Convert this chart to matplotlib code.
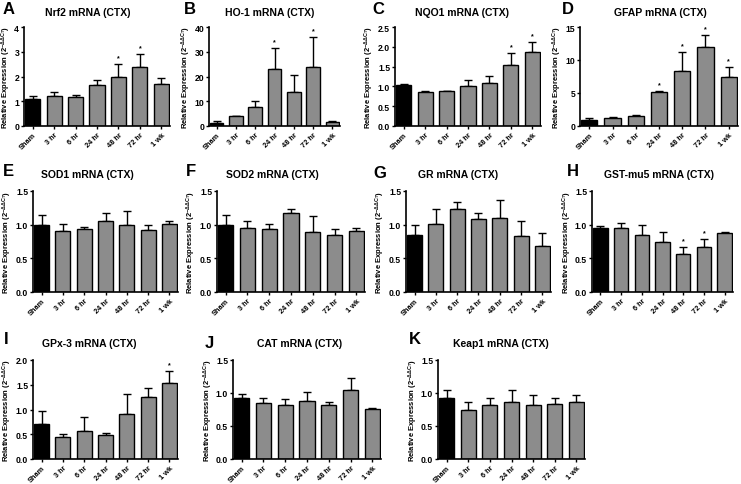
import matplotlib

matplotlib.use("Agg")

import matplotlib.pyplot as plt
import numpy as np

plt.rcParams["font.family"] = ["Liberation Sans", "DejaVu Sans"]
plt.rcParams["font.weight"] = "bold"
plt.rcParams["mathtext.fontset"] = "custom"
plt.rcParams["mathtext.rm"] = "Liberation Sans:bold"
plt.rcParams["mathtext.it"] = "Liberation Sans:bold"
plt.rcParams["mathtext.bf"] = "Liberation Sans:bold"

groups = ["Sham", "3 hr", "6 hr", "24 hr", "48 hr", "72 hr", "1 wk"]

# bar heights and the top end of each error bar
nrf2_mean = [1.08, 1.21, 1.16, 1.67, 1.99, 2.37, 1.70]
nrf2_top = [1.21, 1.37, 1.25, 1.87, 2.49, 2.90, 1.95]
ho1_mean = [1.1, 4.0, 7.6, 23.0, 13.8, 23.7, 1.6]
ho1_top = [1.9, 4.0, 10.0, 31.7, 20.7, 36.1, 2.0]
nqo1_mean = [1.03, 0.85, 0.89, 1.01, 1.09, 1.54, 1.88]
nqo1_top = [1.05, 0.88, 0.89, 1.17, 1.26, 1.85, 2.13]
gfap_mean = [0.9, 1.26, 1.5, 5.1, 8.4, 11.9, 7.4]
gfap_top = [1.2, 1.36, 1.67, 5.35, 11.2, 13.8, 8.95]
sod1_mean = [1.00, 0.91, 0.93, 1.05, 0.99, 0.92, 1.01]
sod1_top = [1.14, 1.01, 0.96, 1.17, 1.21, 1.00, 1.05]
sod2_mean = [1.00, 0.95, 0.93, 1.17, 0.89, 0.85, 0.90]
sod2_top = [1.15, 1.06, 1.01, 1.24, 1.13, 0.93, 0.95]
gr_mean = [0.84, 1.01, 1.24, 1.08, 1.10, 0.83, 0.69]
gr_top = [0.99, 1.23, 1.34, 1.17, 1.36, 1.05, 0.87]
gst_mean = [0.95, 0.95, 0.85, 0.75, 0.57, 0.67, 0.87]
gst_top = [0.98, 1.03, 0.99, 0.89, 0.67, 0.79, 0.89]
gpx3_mean = [0.70, 0.45, 0.56, 0.48, 0.90, 1.25, 1.53]
gpx3_top = [0.97, 0.50, 0.84, 0.53, 1.32, 1.44, 1.77]
cat_mean = [0.92, 0.85, 0.82, 0.88, 0.82, 1.05, 0.76]
cat_top = [0.99, 0.93, 0.91, 1.01, 0.87, 1.22, 0.78]
keap1_mean = [0.93, 0.75, 0.82, 0.87, 0.82, 0.83, 0.87]
keap1_top = [1.04, 0.86, 0.92, 1.05, 0.97, 0.92, 0.97]

panels = [
    ("A", "Nrf2 mRNA (CTX)", nrf2_mean, nrf2_top, [4, 5], [0, 1, 2, 3, 4], "{:.0f}"),
    ("B", "HO-1 mRNA (CTX)", ho1_mean, ho1_top, [3, 5], [0, 10, 20, 30, 40], "{:.0f}"),
    ("C", "NQO1 mRNA (CTX)", nqo1_mean, nqo1_top, [5, 6], [0, 0.5, 1.0, 1.5, 2.0, 2.5], "{:.1f}"),
    ("D", "GFAP mRNA (CTX)", gfap_mean, gfap_top, [3, 4, 5, 6], [0, 5, 10, 15], "{:.0f}"),
    ("E", "SOD1 mRNA (CTX)", sod1_mean, sod1_top, [], [0, 0.5, 1.0, 1.5], "{:.1f}"),
    ("F", "SOD2 mRNA (CTX)", sod2_mean, sod2_top, [], [0, 0.5, 1.0, 1.5], "{:.1f}"),
    ("G", "GR mRNA (CTX)", gr_mean, gr_top, [], [0, 0.5, 1.0, 1.5], "{:.1f}"),
    ("H", "GST-mu5 mRNA (CTX)", gst_mean, gst_top, [4, 5], [0, 0.5, 1.0, 1.5], "{:.1f}"),
    ("I", "GPx-3 mRNA (CTX)", gpx3_mean, gpx3_top, [6], [0, 0.5, 1.0, 1.5, 2.0], "{:.1f}"),
    ("J", "CAT mRNA (CTX)", cat_mean, cat_top, [], [0, 0.5, 1.0, 1.5], "{:.1f}"),
    ("K", "Keap1 mRNA (CTX)", keap1_mean, keap1_top, [], [0, 0.5, 1.0, 1.5], "{:.1f}"),
]

# pixel layout: axes box (left, right, top, bottom), title centre, letter position
W, H = 741, 485
layout = {
    "A": ((24, 170, 28, 127), (88, 13), (3, 9)),
    "B": ((209, 340, 28, 127), (270, 13), (184, 9)),
    "C": ((395, 541, 28, 127), (462, 13), (372, 9)),
    "D": ((580, 738, 28, 127), (660, 13), (562, 9)),
    "E": ((33, 178, 192, 293), (87, 175), (3, 172)),
    "F": ((217, 365, 192, 293), (272, 175), (186, 171)),
    "G": ((406, 551, 192, 293), (458, 175), (373, 173)),
    "H": ((592, 733, 192, 293), (659, 175), (567, 172)),
    "I": ((33, 178, 361, 460), (89, 344), (4, 340)),
    "J": ((233, 381, 361, 460), (300, 344), (205, 343)),
    "K": ((438, 585, 361, 460), (501, 344), (409, 340)),
}

fig = plt.figure(figsize=(W / 100, H / 100), dpi=100)
x = np.arange(len(groups))
colors = ["black"] + ["#8c8c8c"] * (len(groups) - 1)

for letter, title, mean, top, stars, yticks, fmt in panels:
    (l, r, t, b), (tx, ty), (lx, ly) = layout[letter]
    ax = fig.add_axes([l / W, 1 - b / H, (r - l) / W, (b - t) / H])
    mean = np.asarray(mean)
    top = np.asarray(top)
    err = top - mean
    ax.bar(x, mean, width=0.7, color=colors, edgecolor="black", linewidth=1.0, zorder=2)
    ax.errorbar(x, mean, yerr=[np.zeros_like(err), err], fmt="none", ecolor="black",
                elinewidth=1.0, capsize=3, capthick=1.0, zorder=1)
    for i in stars:
        ax.annotate("*", (x[i], top[i]), xytext=(0, 2), textcoords="offset points",
                    ha="center", va="bottom", fontsize=5)
    ax.set_xlim(-0.4, len(groups) - 0.6)
    ax.set_ylim(0, yticks[-1])
    ax.set_yticks(yticks)
    ax.set_yticklabels([fmt.format(v) for v in yticks], fontsize=6.2, fontweight="bold")
    ax.set_xticks(x)
    ax.set_xticklabels(groups, rotation=45, ha="right", rotation_mode="anchor",
                       fontsize=5.3, fontweight="bold")
    ax.tick_params(direction="out", length=2.5, width=1.0, pad=1)
    for side in ["top", "right"]:
        ax.spines[side].set_visible(False)
    for side in ["left", "bottom"]:
        ax.spines[side].set_linewidth(1.2)
    ax.set_ylabel(r"Relative Expression (2$^{-\Delta\Delta C_T}$)", fontsize=5.5,
                  fontweight="bold", labelpad=1)
    fig.text(tx / W, 1 - ty / H, title, ha="center", va="center", fontsize=7.5, fontweight="bold")
    fig.text(lx / W, 1 - ly / H, letter, ha="left", va="center", fontsize=12, fontweight="bold")

fig.savefig("out.png", dpi=100)
plt.close(fig)
